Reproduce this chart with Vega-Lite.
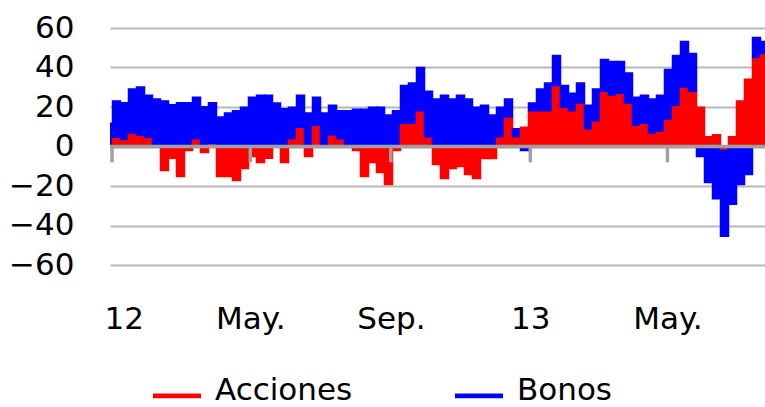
{
  "$schema": "https://vega.github.io/schema/vega-lite/v6.json",
  "width": 655,
  "height": 237,
  "autosize": {"type": "none"},
  "padding": {"left": 110, "top": 28, "right": 0, "bottom": 142},
  "background": "white",
  "config": {"view": {"stroke": null}, "font": "DejaVu Sans"},
  "layer": [
    {
      "data": {"values": [
        {"fecha": "2011-12-25", "Acciones": 0, "Bonos": 11.8},
        {"fecha": "2012-01-01", "Acciones": 4.7, "Bonos": 18.4},
        {"fecha": "2012-01-08", "Acciones": 3.7, "Bonos": 18.4},
        {"fecha": "2012-01-15", "Acciones": 6.8, "Bonos": 22.3},
        {"fecha": "2012-01-22", "Acciones": 5.7, "Bonos": 24.4},
        {"fecha": "2012-01-29", "Acciones": 4.7, "Bonos": 21.3},
        {"fecha": "2012-02-05", "Acciones": 0, "Bonos": 24.0},
        {"fecha": "2012-02-12", "Acciones": -12.2, "Bonos": 23.1},
        {"fecha": "2012-02-19", "Acciones": -5.9, "Bonos": 21.1},
        {"fecha": "2012-02-26", "Acciones": -15.2, "Bonos": 22.1},
        {"fecha": "2012-03-04", "Acciones": -2.0, "Bonos": 22.1},
        {"fecha": "2012-03-11", "Acciones": 3.9, "Bonos": 21.1},
        {"fecha": "2012-03-18", "Acciones": -3.0, "Bonos": 20.1},
        {"fecha": "2012-03-25", "Acciones": 1.7, "Bonos": 20.4},
        {"fecha": "2012-04-01", "Acciones": -15.2, "Bonos": 14.9},
        {"fecha": "2012-04-08", "Acciones": -15.2, "Bonos": 16.9},
        {"fecha": "2012-04-15", "Acciones": -17.2, "Bonos": 18.1},
        {"fecha": "2012-04-22", "Acciones": -11.1, "Bonos": 19.9},
        {"fecha": "2012-04-29", "Acciones": -5.1, "Bonos": 25.0},
        {"fecha": "2012-05-06", "Acciones": -8.1, "Bonos": 26.0},
        {"fecha": "2012-05-13", "Acciones": -5.9, "Bonos": 26.0},
        {"fecha": "2012-05-20", "Acciones": 0, "Bonos": 22.0},
        {"fecha": "2012-05-27", "Acciones": -8.1, "Bonos": 19.1},
        {"fecha": "2012-06-03", "Acciones": 3.9, "Bonos": 16.0},
        {"fecha": "2012-06-10", "Acciones": 9.8, "Bonos": 16.2},
        {"fecha": "2012-06-17", "Acciones": -5.1, "Bonos": 16.9},
        {"fecha": "2012-06-24", "Acciones": 10.8, "Bonos": 14.2},
        {"fecha": "2012-07-01", "Acciones": 0, "Bonos": 16.9},
        {"fecha": "2012-07-08", "Acciones": 5.9, "Bonos": 15.0},
        {"fecha": "2012-07-15", "Acciones": 3.9, "Bonos": 14.2},
        {"fecha": "2012-07-22", "Acciones": 0, "Bonos": 18.1},
        {"fecha": "2012-07-29", "Acciones": -2.0, "Bonos": 18.9},
        {"fecha": "2012-08-05", "Acciones": -15.2, "Bonos": 18.9},
        {"fecha": "2012-08-12", "Acciones": -8.1, "Bonos": 19.9},
        {"fecha": "2012-08-19", "Acciones": -13.2, "Bonos": 19.9},
        {"fecha": "2012-08-26", "Acciones": -19.3, "Bonos": 15.9},
        {"fecha": "2012-09-02", "Acciones": -2.0, "Bonos": 18.1},
        {"fecha": "2012-09-09", "Acciones": 11.8, "Bonos": 19.1},
        {"fecha": "2012-09-16", "Acciones": 11.8, "Bonos": 20.3},
        {"fecha": "2012-09-23", "Acciones": 18.1, "Bonos": 21.9},
        {"fecha": "2012-09-30", "Acciones": 4.9, "Bonos": 23.1},
        {"fecha": "2012-10-07", "Acciones": -9.1, "Bonos": 24.0},
        {"fecha": "2012-10-14", "Acciones": -16.2, "Bonos": 26.0},
        {"fecha": "2012-10-21", "Acciones": -11.1, "Bonos": 24.0},
        {"fecha": "2012-10-28", "Acciones": -10.1, "Bonos": 26.0},
        {"fecha": "2012-11-04", "Acciones": -14.2, "Bonos": 24.0},
        {"fecha": "2012-11-11", "Acciones": -16.2, "Bonos": 19.9},
        {"fecha": "2012-11-18", "Acciones": -6.1, "Bonos": 20.9},
        {"fecha": "2012-11-25", "Acciones": -6.1, "Bonos": 15.9},
        {"fecha": "2012-12-02", "Acciones": 4.9, "Bonos": 15.0},
        {"fecha": "2012-12-09", "Acciones": 14.9, "Bonos": 9.1},
        {"fecha": "2012-12-16", "Acciones": 4.9, "Bonos": 4.1},
        {"fecha": "2012-12-23", "Acciones": 9.8, "Bonos": -2.0},
        {"fecha": "2012-12-30", "Acciones": 18.1, "Bonos": 3.9},
        {"fecha": "2013-01-06", "Acciones": 18.1, "Bonos": 11.0},
        {"fecha": "2013-01-13", "Acciones": 18.1, "Bonos": 14.0},
        {"fecha": "2013-01-20", "Acciones": 30.9, "Bonos": 15.2},
        {"fecha": "2013-01-27", "Acciones": 19.9, "Bonos": 11.0},
        {"fecha": "2013-02-03", "Acciones": 18.1, "Bonos": 8.9},
        {"fecha": "2013-02-10", "Acciones": 22.0, "Bonos": 10.1},
        {"fecha": "2013-02-17", "Acciones": 9.0, "Bonos": 11.9},
        {"fecha": "2013-02-24", "Acciones": 13.0, "Bonos": 16.1},
        {"fecha": "2013-03-03", "Acciones": 28.0, "Bonos": 16.1},
        {"fecha": "2013-03-10", "Acciones": 26.0, "Bonos": 17.1},
        {"fecha": "2013-03-17", "Acciones": 27.0, "Bonos": 16.1},
        {"fecha": "2013-03-24", "Acciones": 22.0, "Bonos": 15.2},
        {"fecha": "2013-03-31", "Acciones": 10.8, "Bonos": 14.2},
        {"fecha": "2013-04-07", "Acciones": 11.8, "Bonos": 14.2},
        {"fecha": "2013-04-14", "Acciones": 6.8, "Bonos": 17.2},
        {"fecha": "2013-04-21", "Acciones": 7.8, "Bonos": 18.2},
        {"fecha": "2013-04-28", "Acciones": 13.9, "Bonos": 25.1},
        {"fecha": "2013-05-05", "Acciones": 20.9, "Bonos": 25.2},
        {"fecha": "2013-05-12", "Acciones": 30.1, "Bonos": 23.1},
        {"fecha": "2013-05-19", "Acciones": 28.0, "Bonos": 19.1},
        {"fecha": "2013-05-26", "Acciones": 19.9, "Bonos": -5.1},
        {"fecha": "2013-06-02", "Acciones": 4.9, "Bonos": -18.2},
        {"fecha": "2013-06-09", "Acciones": 5.9, "Bonos": -26.4},
        {"fecha": "2013-06-16", "Acciones": -2.0, "Bonos": -43.4},
        {"fecha": "2013-06-23", "Acciones": 4.9, "Bonos": -29.2},
        {"fecha": "2013-06-30", "Acciones": 23.0, "Bonos": -19.3},
        {"fecha": "2013-07-07", "Acciones": 34.0, "Bonos": -14.2},
        {"fecha": "2013-07-14", "Acciones": 45.1, "Bonos": 10.1},
        {"fecha": "2013-07-21", "Acciones": 47.1, "Bonos": 6.1}
      ]},
      "transform": [{"fold": ["Acciones", "Bonos"], "as": ["serie", "valor"]}],
      "mark": {"type": "bar", "clip": true, "binSpacing": 0, "timeUnitBandSize": 1, "strokeWidth": 1.5},
      "encoding": {
        "x": {
          "field": "fecha", "type": "temporal", "timeUnit": "utcyearweek",
          "scale": {"type": "utc", "domain": [
            {"year": 2011, "month": 12, "date": 30, "hours": 6, "utc": true},
            {"year": 2013, "month": 7, "date": 25, "hours": 9, "utc": true}
          ]},
          "axis": {
            "title": null,
            "values": [
              {"year": 2012, "month": 1, "date": 1, "utc": true},
              {"year": 2012, "month": 5, "date": 1, "utc": true},
              {"year": 2012, "month": 9, "date": 1, "utc": true},
              {"year": 2013, "month": 1, "date": 1, "utc": true},
              {"year": 2013, "month": 5, "date": 1, "utc": true}
            ],
            "tickCount": 20,
            "labelExpr": "utcmonth(datum.value) == 0 ? utcFormat(datum.value, '%y') : utcFormat(datum.value, '%b') + '.'",
            "domain": false, "ticks": false, "grid": false,
            "labelFont": "DejaVu Sans", "labelFontSize": 31, "labelColor": "black",
            "labelPadding": 39, "labelFlush": 5, "labelFlushOffset": 8, "labelOverlap": false
          }
        },
        "y": {
          "field": "valor", "type": "quantitative", "stack": "zero",
          "scale": {"domain": [-60, 60], "nice": false},
          "axis": {
            "title": null,
            "values": [-60, -40, -20, 0, 20, 40, 60],
            "tickCount": 7,
            "domain": false, "ticks": false,
            "gridColor": "#b8b8b8", "gridWidth": 2,
            "labelFont": "DejaVu Sans", "labelFontSize": 31, "labelColor": "black",
            "labelPadding": 36, "labelOverlap": false
          }
        },
        "color": {
          "field": "serie", "type": "nominal",
          "scale": {"domain": ["Acciones", "Bonos"], "range": ["#ff0000", "#0000ff"]},
          "legend": {
            "orient": "none", "legendX": 43, "legendY": 339,
            "direction": "horizontal", "title": null,
            "symbolType": "M-1,0.1H1V0.3H-1Z", "symbolSize": 2304, "symbolStrokeWidth": 0,
            "labelFont": "DejaVu Sans", "labelFontSize": 31, "labelColor": "black",
            "labelOffset": 14, "columnPadding": 102, "padding": 0
          }
        },
        "stroke": {
          "field": "serie", "type": "nominal",
          "scale": {"domain": ["Acciones", "Bonos"], "range": ["#ff0000", "#0000ff"]},
          "legend": null
        },
        "order": {"field": "serie", "type": "nominal", "sort": "ascending"}
      }
    },
    {
      "data": {"values": [{}]},
      "mark": {"type": "rule", "color": "#a0a0a0", "strokeWidth": 3.5},
      "encoding": {"y": {"datum": 0}}
    },
    {
      "data": {"values": [
        {"fecha": "2012-01-01"}, {"fecha": "2012-05-01"}, {"fecha": "2012-09-01"},
        {"fecha": "2013-01-01"}, {"fecha": "2013-05-01"}
      ]},
      "mark": {"type": "rule", "color": "#a0a0a0", "strokeWidth": 3.5},
      "encoding": {
        "x": {"field": "fecha", "type": "temporal", "scale": {"type": "utc"}},
        "y": {"datum": 0},
        "y2": {"datum": -8}
      }
    }
  ]
}
